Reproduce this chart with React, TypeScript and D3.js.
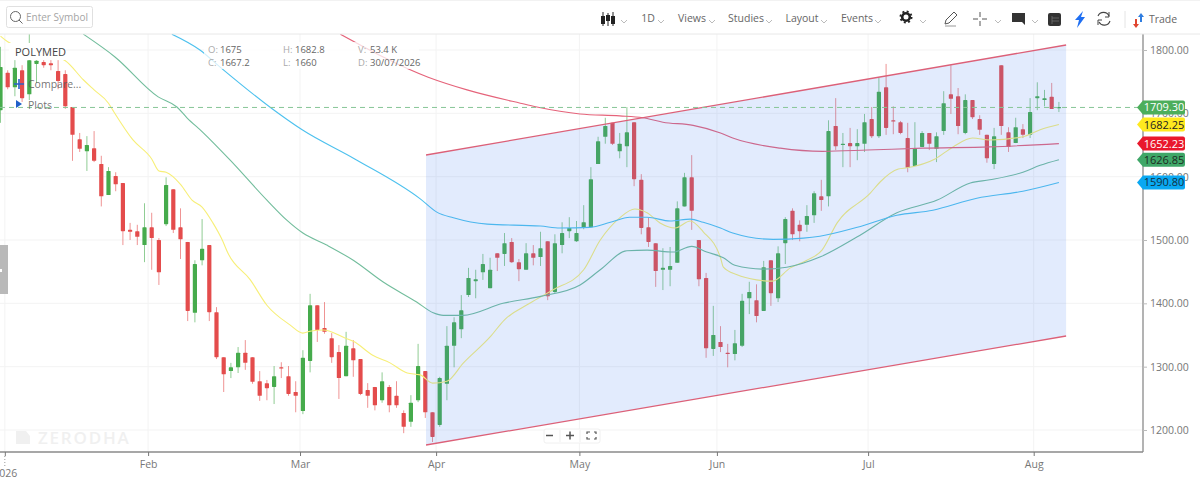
import React, { useEffect, useRef } from 'react';
import * as d3 from 'd3';

const WIDTH = 1200;
const HEIGHT = 479;

// daily candles, oldest first, one entry per session
const opens = [1705,1764,1741,1768,1730,1778,1781,1779,1767,1762,1710,1659,1640,1645,1620,1571,1601,1590,1516,1514,1492,1520,1500,1525,1580,1520,1497,1385,1468,1492,1386,1315,1293,1299,1322,1315,1277,1274,1268,1299,1285,1260,1230,1309,1397,1361,1345,1323,1285,1329,1312,1263,1268,1247,1268,1254,1227,1213,1247,1293,1228,1208,1273,1333,1359,1413,1435,1449,1424,1479,1478,1497,1465,1453,1479,1473,1498,1418,1492,1514,1498,1519,1520,1620,1663,1685,1640,1648,1686,1595,1520,1495,1453,1453,1464,1553,1599,1500,1440,1328,1339,1322,1320,1333,1408,1405,1388,1468,1408,1495,1546,1524,1524,1539,1569,1569,1680,1650,1653,1648,1652,1691,1664,1741,1689,1686,1661,1617,1647,1669,1644,1672,1730,1727,1669,1721,1691,1666,1620,1776,1670,1653,1675,1666,1724,1721,1726,1708];
const highs = [1805,1768,1784,1776,1827,1784,1784,1784,1784,1768,1710,1669,1664,1672,1633,1615,1607,1590,1527,1524,1558,1543,1503,1599,1580,1550,1497,1468,1533,1492,1394,1315,1306,1331,1342,1315,1293,1279,1301,1307,1301,1277,1326,1415,1397,1402,1353,1334,1355,1342,1312,1274,1268,1291,1271,1277,1231,1255,1336,1293,1228,1284,1364,1378,1413,1456,1453,1478,1472,1479,1511,1503,1470,1495,1492,1513,1498,1509,1528,1536,1530,1555,1615,1663,1693,1685,1669,1710,1686,1604,1535,1495,1487,1489,1561,1606,1634,1500,1448,1396,1364,1336,1358,1415,1434,1430,1467,1468,1490,1536,1550,1531,1555,1577,1595,1689,1724,1669,1677,1675,1699,1710,1756,1778,1711,1688,1685,1686,1672,1669,1670,1735,1776,1740,1730,1721,1697,1666,1677,1776,1678,1693,1683,1724,1749,1737,1748,1718];
const lows = [1685,1738,1727,1718,1721,1748,1772,1768,1738,1707,1625,1639,1609,1623,1553,1571,1577,1492,1500,1492,1465,1453,1429,1522,1511,1470,1372,1370,1460,1372,1312,1260,1282,1290,1295,1273,1246,1247,1241,1282,1254,1228,1225,1291,1339,1352,1306,1249,1285,1284,1255,1235,1231,1243,1228,1235,1195,1205,1244,1219,1181,1205,1247,1299,1345,1410,1408,1437,1424,1451,1459,1464,1435,1453,1460,1459,1405,1416,1479,1503,1497,1517,1520,1620,1652,1650,1629,1615,1585,1509,1489,1426,1421,1427,1464,1553,1516,1427,1314,1317,1323,1299,1310,1331,1383,1370,1388,1396,1402,1462,1500,1498,1513,1527,1546,1553,1642,1615,1615,1626,1639,1661,1661,1666,1667,1667,1607,1617,1647,1642,1623,1666,1699,1667,1667,1691,1666,1622,1612,1666,1639,1653,1661,1661,1705,1711,1707,1702];
const closes = [1773,1741,1772,1724,1784,1783,1776,1776,1751,1711,1666,1644,1650,1625,1569,1609,1588,1514,1513,1505,1520,1503,1449,1587,1516,1501,1388,1462,1486,1386,1315,1288,1299,1322,1306,1276,1254,1266,1285,1298,1257,1254,1314,1397,1358,1355,1315,1282,1333,1310,1257,1254,1239,1277,1239,1239,1205,1243,1301,1228,1189,1282,1333,1370,1389,1440,1438,1462,1453,1472,1495,1465,1454,1479,1472,1487,1411,1495,1511,1519,1511,1528,1596,1656,1680,1652,1652,1670,1596,1519,1497,1451,1456,1459,1550,1599,1546,1438,1329,1350,1331,1320,1337,1404,1418,1380,1457,1416,1479,1533,1509,1514,1538,1574,1563,1672,1648,1652,1648,1653,1686,1664,1734,1677,1688,1669,1614,1645,1669,1652,1664,1716,1723,1680,1721,1694,1674,1629,1664,1680,1647,1678,1666,1702,1727,1724,1707,1710];

// moving averages: [session, price]
const maYellow: [number, number][] = [[0,1822],[1,1813],[9,1783],[11.5,1753],[13,1737],[15,1716],[15.6,1705],[18.4,1658],[21,1628],[22,1609],[23,1607],[25,1588],[26.6,1563],[28,1552],[29.5,1527],[30.8,1500],[31.6,1479],[34.7,1437],[37,1397],[40.2,1366],[42,1353],[43,1356],[44.8,1358],[48.1,1344],[49,1340],[51.7,1318],[54.1,1306],[56.5,1290],[58.3,1287],[60,1274],[62,1277],[64.3,1306],[68,1347],[70,1374],[73.5,1400],[76.7,1421],[81,1453],[83.3,1500],[86,1535],[88.1,1549],[89.8,1543],[91.6,1527],[93.7,1519],[95.8,1530],[97.6,1513],[100,1472],[100.4,1457],[102.3,1445],[105,1437],[107.2,1435],[109.7,1456],[112,1468],[114.1,1484],[116.2,1527],[120.8,1574],[122.2,1592],[124.7,1612],[125.9,1614],[129.8,1628],[132.3,1647],[135,1661],[137.4,1658],[142,1663],[144.4,1674],[147,1682.25]];
const maTeal: [number, number][] = [[11.5,1825],[15.9,1789],[21.9,1726],[24.5,1710],[25.9,1693],[28.1,1670],[31.9,1626],[37,1563],[39.8,1531],[42,1511],[45.3,1492],[49,1468],[53.1,1434],[57.8,1402],[60.1,1385],[61.5,1381],[64.2,1381],[69.8,1400],[75,1411],[80.5,1429],[83.3,1453],[87,1483],[89.8,1484],[93.4,1481],[96,1490],[98.1,1481],[100.4,1472],[102,1460],[105.8,1454],[109.2,1457],[113.8,1473],[119,1505],[124.5,1543],[130.1,1563],[134.7,1590],[137.4,1595],[142,1607],[144.4,1618],[147,1626.85]];
const maBlue: [number, number][] = [[23.8,1825],[27.7,1800],[30.5,1773],[37.4,1710],[41.9,1674],[49.2,1628],[58.3,1565],[60.6,1544],[62.9,1535],[67.6,1525],[75,1522],[77.7,1519],[81.9,1520],[84.7,1528],[87.4,1536],[89.8,1536],[93,1530],[95.8,1533],[97.6,1528],[100,1519],[101.7,1511],[107.3,1501],[111.5,1503],[113.8,1506],[119,1520],[124.5,1539],[129.5,1547],[135.6,1566],[142,1577],[147,1590.8]];
const maRed: [number, number][] = [[47.2,1825],[59.4,1757],[64.8,1737],[72.2,1716],[74.5,1710],[80.5,1699],[86,1696],[89.2,1693],[92,1686],[96.2,1681],[100,1669],[101.7,1661],[108.3,1645],[114.2,1640],[120.4,1642],[128.1,1645],[137.4,1647],[147,1652.23]];

// parallel channel drawn on the chart
const channelUpper: [number, number][] = [[59.1,1634.2],[148,1807.9]];
const channelLower: [number, number][] = [[59.1,1176.3],[148,1348.4]];

const priceTicks = [1200,1300,1400,1500,1600,1700,1800];
const monthTicks = [0.6,20.5,41.6,60.5,80.4,99.5,120.5,143.5];
const monthLabels = ['2026','Feb','Mar','Apr','May','Jun','Jul','Aug'];

const lastLabels = [
  { value: 1709.3, fill: '#4cae5b', text: '#ffffff' },
  { value: 1682.25, fill: '#ffe91f', text: '#222222' },
  { value: 1652.23, fill: '#e9182c', text: '#ffffff' },
  { value: 1626.85, fill: '#3fa768', text: '#1d2b22' },
  { value: 1590.8, fill: '#0aa8f2', text: '#12303f' },
];

const menuItems = [
  { label: '1D', x: 648, chev: 661 },
  { label: 'Views', x: 692, chev: 712 },
  { label: 'Studies', x: 746, chev: 769 },
  { label: 'Layout', x: 802, chev: 824 },
  { label: 'Events', x: 857, chev: 878 },
];
const extraChevrons = [624, 923, 998, 1035];

const FONT = '"Open Sans", sans-serif';

const App: React.FC = () => {
  const svgRef = useRef<SVGSVGElement>(null);

  useEffect(() => {
    if (!svgRef.current) return;
    const svg = d3.select(svgRef.current);
    svg.selectAll('*').remove();

    const plotRight = 1143;
    const plotTop = 34;
    const plotBottom = 452;

    const x = d3.scaleLinear().domain([0, 147]).range([0.5, 1058.9]);
    const y = d3.scaleLinear().domain([1200, 1800]).range([430, 50]);

    svg.append('rect').attr('width', WIDTH).attr('height', HEIGHT).attr('fill', '#fff');
    svg.append('defs').append('clipPath').attr('id', 'plot')
      .append('rect').attr('x', 0).attr('y', plotTop).attr('width', plotRight).attr('height', plotBottom - plotTop);

    // grid
    const grid = svg.append('g').attr('stroke', '#f3f3f3').attr('stroke-width', 1);
    priceTicks.forEach(p => {
      grid.append('line').attr('x1', 0).attr('x2', plotRight).attr('y1', y(p)).attr('y2', y(p));
    });
    monthTicks.forEach(m => {
      grid.append('line').attr('x1', x(m)).attr('x2', x(m)).attr('y1', plotTop).attr('y2', plotBottom);
    });

    // watermark
    svg.append('path').attr('d', 'M16 431H26L30 436V444H16Z').attr('fill', '#f0f0f0');
    svg.append('text').attr('x', 38).attr('y', 444).text('ZERODHA')
      .attr('font-family', FONT).attr('font-size', 17).attr('font-weight', 600)
      .attr('letter-spacing', 1.8).attr('fill', '#f0f0f0');

    const plot = svg.append('g').attr('clip-path', 'url(#plot)');

    // candles
    const idx = d3.range(opens.length);
    const colorOf = (i: number) => (closes[i] >= opens[i] ? '#46ab4c' : '#e44c4c');
    plot.append('g').selectAll('line').data(idx).join('line')
      .attr('x1', i => x(i)).attr('x2', i => x(i))
      .attr('y1', i => y(highs[i])).attr('y2', i => y(lows[i]))
      .attr('stroke', colorOf).attr('stroke-width', 1).attr('stroke-opacity', 0.6);
    plot.append('g').selectAll('rect').data(idx).join('rect')
      .attr('x', i => x(i) - 2.1)
      .attr('width', 4.2)
      .attr('y', i => y(Math.max(opens[i], closes[i])))
      .attr('height', i => Math.max(1.2, Math.abs(y(opens[i]) - y(closes[i]))))
      .attr('rx', 0.6)
      .attr('fill', colorOf);

    // moving averages
    const line = d3.line<[number, number]>()
      .x(d => x(d[0])).y(d => y(d[1])).curve(d3.curveMonotoneX);
    const maLines: [[number, number][], string][] = [
      [maYellow, '#f7ef78'],
      [maTeal, '#72bd9c'],
      [maBlue, '#4dc1ee'],
      [maRed, '#e5637a'],
    ];
    maLines.forEach(([data, color]) => {
      plot.append('path').attr('d', line(data)).attr('fill', 'none')
        .attr('stroke', color).attr('stroke-width', 1.1);
    });

    // channel shading sits over the candles, which is why they look muted inside it
    const channelPts = [...channelUpper, ...channelLower.slice().reverse()];
    plot.append('path')
      .attr('d', d3.line<[number, number]>().x(d => x(d[0])).y(d => y(d[1]))(channelPts) + 'Z')
      .attr('fill', 'rgba(75,130,240,0.16)');
    [channelUpper, channelLower].forEach(c => {
      plot.append('path')
        .attr('d', d3.line<[number, number]>().x(d => x(d[0])).y(d => y(d[1]))(c))
        .attr('fill', 'none').attr('stroke', '#dc6078').attr('stroke-width', 1.3);
    });

    // last price line
    plot.append('line').attr('x1', 0).attr('x2', plotRight)
      .attr('y1', y(1709.3)).attr('y2', y(1709.3))
      .attr('stroke', '#86c596').attr('stroke-width', 1).attr('stroke-dasharray', '5 4');

    // legend boxes hide what runs behind them
    svg.append('rect').attr('x', 9).attr('y', 43).attr('width', 57).attr('height', 17).attr('fill', '#fff');
    svg.append('rect').attr('x', 204).attr('y', 42).attr('width', 215).attr('height', 27).attr('fill', 'rgba(255,255,255,0.75)');

    // axes
    const yAxis = svg.append('g').attr('transform', `translate(${plotRight},0)`)
      .call(d3.axisRight(y).tickValues(priceTicks).tickFormat(d => d3.format('.2f')(d as number)).tickSize(4).tickPadding(3));
    yAxis.select('.domain').attr('d', `M0,${plotTop}V${plotBottom}`).attr('stroke', '#9a9a9a').attr('stroke-width', 1.5);
    yAxis.selectAll('line').attr('stroke', '#bbb');
    yAxis.selectAll('text').attr('font-family', FONT).attr('font-size', 10.5).attr('fill', '#777');

    const xAxis = svg.append('g').attr('transform', `translate(0,${plotBottom})`)
      .call(d3.axisBottom(x).tickValues(monthTicks).tickFormat((_, i) => monthLabels[i]).tickSize(4).tickPadding(5));
    xAxis.select('.domain').attr('d', `M0,0H${plotRight}`).attr('stroke', '#8a8a8a').attr('stroke-width', 1.5);
    xAxis.selectAll('line').attr('stroke', '#777');
    xAxis.selectAll('text').attr('font-family', FONT).attr('font-size', 10.5).attr('fill', '#777');
    xAxis.selectAll('text').filter((_, i) => i === 0).attr('y', 18);
    svg.append('line').attr('x1', x(monthTicks[0])).attr('x2', x(monthTicks[0]))
      .attr('y1', plotBottom + 4).attr('y2', plotBottom + 14)
      .attr('stroke', '#999').attr('stroke-dasharray', '1 2');

    // value flags on the price axis
    lastLabels.forEach(l => {
      const cy = y(l.value);
      svg.append('path')
        .attr('d', `M1137 ${cy}L1143 ${cy - 7}H1183Q1185 ${cy - 7} 1185 ${cy - 5}V${cy + 5}Q1185 ${cy + 7} 1183 ${cy + 7}H1143Z`)
        .attr('fill', l.fill);
      svg.append('text').attr('x', 1164).attr('y', cy + 4).attr('text-anchor', 'middle')
        .attr('font-family', FONT).attr('font-size', 11).attr('fill', l.text).text(l.value.toFixed(2));
    });

    // toolbar
    svg.append('line').attr('x1', 0).attr('x2', WIDTH).attr('y1', 34).attr('y2', 34).attr('stroke', '#e8e8e8');
    svg.append('line').attr('x1', 0).attr('x2', WIDTH).attr('y1', 0.5).attr('y2', 0.5).attr('stroke', '#f2f2f2');
    svg.append('rect').attr('x', 6.5).attr('y', 6.5).attr('width', 86).attr('height', 21).attr('rx', 2)
      .attr('fill', '#fff').attr('stroke', '#e0e0e0');
    svg.append('circle').attr('cx', 15.5).attr('cy', 16.5).attr('r', 5).attr('fill', 'none').attr('stroke', '#666');
    svg.append('line').attr('x1', 19).attr('y1', 20).attr('x2', 22.5).attr('y2', 23.5).attr('stroke', '#666');
    const label = (tx: number, ty: number, s: string, color = '#666', size = 10.5, anchor = 'start') =>
      svg.append('text').attr('x', tx).attr('y', ty).attr('font-family', FONT).attr('font-size', size)
        .attr('fill', color).attr('text-anchor', anchor).text(s);
    label(26, 21, 'Enter Symbol', '#a5a5a5', 10);

    menuItems.forEach(m => {
      label(m.x, 22, m.label, '#666', 10.5, 'middle');
    });
    const chev = (cx: number) => svg.append('path').attr('d', `M${cx - 3} 20L${cx} 23L${cx + 3} 20`)
      .attr('fill', 'none').attr('stroke', '#aaa').attr('stroke-width', 0.8);
    menuItems.forEach(m => chev(m.chev));
    extraChevrons.forEach(chev);

    // candle icon
    [603, 608, 613].forEach((cx, i) => {
      svg.append('line').attr('x1', cx).attr('x2', cx).attr('y1', 12 + (i % 2)).attr('y2', 26).attr('stroke', '#222');
      svg.append('rect').attr('x', cx - 2).attr('y', i === 1 ? 15 : 16).attr('width', 4).attr('height', i === 1 ? 6 : 8).attr('fill', '#222');
    });
    // gear
    svg.append('circle').attr('cx', 906).attr('cy', 17).attr('r', 3.8).attr('fill', 'none').attr('stroke', '#222').attr('stroke-width', 2.6);
    svg.append('circle').attr('cx', 906).attr('cy', 17).attr('r', 5.6).attr('fill', 'none').attr('stroke', '#222').attr('stroke-width', 1.8).attr('stroke-dasharray', '2 2.4');
    // pencil
    svg.append('path').attr('d', 'M945 24L946 20L954 12L957 15L949 23Z').attr('fill', 'none').attr('stroke', '#555').attr('stroke-width', 1);
    svg.append('line').attr('x1', 945).attr('x2', 956).attr('y1', 26).attr('y2', 26).attr('stroke', '#999');
    // crosshair
    svg.append('path').attr('d', 'M973 19H978M982 19H987M980 12V17M980 21V26').attr('stroke', '#555').attr('fill', 'none');
    // book and table
    svg.append('path').attr('d', 'M1012 13H1025V25L1022 22H1012Z').attr('fill', '#333');
    svg.append('rect').attr('x', 1048).attr('y', 13).attr('width', 13).attr('height', 13).attr('rx', 2).attr('fill', '#333');
    svg.append('path').attr('d', 'M1052 16V24M1052 18H1059M1052 21H1059').attr('stroke', '#777').attr('stroke-width', 0.7);
    // bolt
    svg.append('path').attr('d', 'M1083 11L1075 20H1079L1077 28L1085 17H1081Z').attr('fill', '#1f6ff2');
    // refresh
    svg.append('path').attr('d', 'M1098 16A6 6 0 0 1 1109 16M1110 21A6 6 0 0 1 1099 22').attr('fill', 'none').attr('stroke', '#444').attr('stroke-width', 1.1);
    svg.append('path').attr('d', 'M1109 12V17H1105M1098 25V20H1102').attr('fill', 'none').attr('stroke', '#444').attr('stroke-width', 1);
    // trade
    svg.append('line').attr('x1', 1125).attr('x2', 1125).attr('y1', 11).attr('y2', 28).attr('stroke', '#e4e4e4');
    svg.append('path').attr('d', 'M1141 13L1144 17H1142V22H1140V17H1138Z').attr('fill', '#2f7de0');
    svg.append('path').attr('d', 'M1136 28L1133 24H1135V19H1137V24H1139Z').attr('fill', '#e0452f');
    label(1163, 23, 'Trade', '#666', 10.5, 'middle');

    // legend
    label(15, 56, 'POLYMED', '#444', 11);
    svg.append('path').attr('d', 'M14 84H24M19 79V89').attr('stroke', '#2a62c9').attr('stroke-width', 1.6);
    label(28, 88, 'Compare...', 'rgba(90,90,90,0.85)', 10.5);
    svg.append('path').attr('d', 'M16 100L22 104L16 108Z').attr('fill', '#1f5fc9');
    label(28, 109, 'Plots', 'rgba(90,90,90,0.85)', 10.5);

    const ohlcKeys = [
      [208, 53, 'O:', 220, '1675'], [208, 66, 'C:', 220, '1667.2'],
      [283, 53, 'H:', 295, '1682.8'], [283, 66, 'L:', 295, '1660'],
      [358, 53, 'V:', 370, '53.4 K'], [358, 66, 'D:', 370, '30/07/2026'],
    ] as const;
    ohlcKeys.forEach(([kx, ky, k, vx, v]) => {
      label(kx, ky, k, '#aaa', 9.5);
      label(vx, ky, v, '#666', 9.5);
    });

    // side tab
    svg.append('rect').attr('x', 0).attr('y', 245).attr('width', 8).attr('height', 49).attr('fill', '#b9b9b9');
    svg.append('rect').attr('x', 0).attr('y', 269).attr('width', 2).attr('height', 3).attr('fill', '#fff');

    // zoom controls
    svg.append('rect').attr('x', 544).attr('y', 429).attr('width', 56).attr('height', 14).attr('rx', 2)
      .attr('fill', '#fff').attr('stroke', '#f0f0f0');
    svg.append('path').attr('d', 'M546 435.5H553M566 435.5H574M570 431.5V439.5').attr('stroke', '#555').attr('stroke-width', 1.5);
    svg.append('path').attr('d', 'M587 434V432H590M594 432H596V434M596 437V439H594M590 439H587V437').attr('fill', 'none').attr('stroke', '#555').attr('stroke-width', 1.2);
    svg.append('line').attr('x1', 560).attr('x2', 560).attr('y1', 430).attr('y2', 442).attr('stroke', '#efefef');
    svg.append('line').attr('x1', 580).attr('x2', 580).attr('y1', 430).attr('y2', 442).attr('stroke', '#efefef');
  }, []);

  return (
    <svg
      ref={svgRef}
      width={WIDTH}
      height={HEIGHT}
      style={{ position: 'absolute', left: 0, top: 0, display: 'block' }}
    />
  );
};

export default App;
